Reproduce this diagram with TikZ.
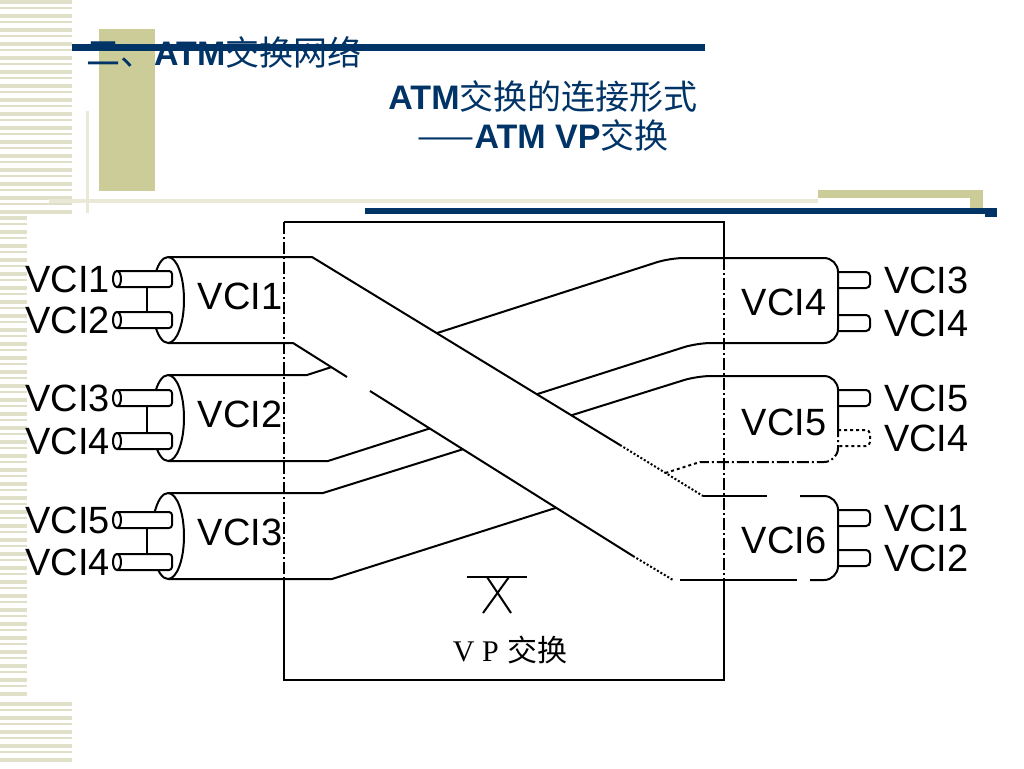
\documentclass[tikz,border=0pt]{standalone}
\usepackage{fontspec}
\setmainfont{Liberation Sans}
\newfontfamily\cjk{Noto Sans CJK SC}
\newfontfamily\romanfont{Liberation Serif}
\usetikzlibrary{positioning}

\definecolor{navy}{RGB}{0,51,102}
\definecolor{olive}{RGB}{204,204,153}
\definecolor{stripe}{RGB}{224,223,200}
\definecolor{paleline}{RGB}{234,233,215}

\tikzset{
  wire/.style={line width=2pt},
  boxdash/.style={line width=2pt, dash pattern=on 12pt off 3pt on 2pt off 3pt},
  vci/.style={inner sep=0pt, font=\fontsize{38}{38}\selectfont},
  heading/.style={inner sep=0pt, text=navy, font=\fontsize{34}{34}\selectfont},
}

\begin{document}
\begin{tikzpicture}[x=1pt, y=-1pt]
            \useasboundingbox (0,0) rectangle (1024,768);
            \fill[white] (0,0) rectangle (1024,768);

            \foreach \y [count=\i] in {0,7,...,210} {\fill[stripe] (0,\y) rectangle (72,{\y+2+2*mod(\i,2)});}
            \foreach \y [count=\i] in {216,223,...,697} {\fill[stripe] (0,\y) rectangle (27,{\y+2+2*mod(\i,2)});}
            \foreach \y [count=\i] in {702,709,...,758} {\fill[stripe] (0,\y) rectangle (72,{\y+2+2*mod(\i,2)});}

            \fill[olive] (99,29) rectangle (155,191);
            \fill[paleline] (86,111) rectangle (89,213);
            \fill[paleline] (49,199) rectangle (818,203);
            \fill[olive] (818,190) rectangle (983,208);
            \fill[white] (818,198) rectangle (970,208);
            \fill[navy] (72,44) rectangle (705,51);
            \fill[navy] (365,208) rectangle (985,214);
            \fill[navy] (985,208) rectangle (997,217);

            \node[heading, anchor=west] (title) at (86,52) {{\cjk 二、}\textbf{ATM}{\cjk 交换网络}};
            \node[heading] (sub1) at (543,97) {\textbf{ATM}{\cjk 交换的连接形式}};
            \node[heading] (sub2) at (543,135) {{\cjk ——}\textbf{ATM VP}{\cjk 交换}};

            \draw[wire] (284,580) -- (284,680) -- (724,680) -- (724,580);
            \draw[wire] (284,222) -- (724,222) -- (724,258);
            \draw[boxdash] (284,222) -- (284,580);
            \draw[boxdash] (724,258) -- (724,580);

            \foreach \c/\m/\a/\b/\la/\lb in {1/300/279/320/1/2, 2/418/398/441/3/4, 3/536/520/562/5/4} {
                \draw[wire] (168,\m) ++(0,-43) arc[start angle=-90, end angle=90, x radius=16, y radius=43];
                \draw[wire] (168,\m) ++(0,-43) arc[start angle=-90, end angle=-150, x radius=16, y radius=43];
                \draw[wire] (168,\m) ++(0,43) arc[start angle=90, end angle=150, x radius=16, y radius=43];
                \foreach \p in {\a,\b} {
                    \draw[wire, fill=white, rounded corners=3pt] (117,\p-8) -- (172,\p-8) -- (172,\p+8) -- (117,\p+8);
                    \draw[wire, fill=white] (117,\p) ellipse [x radius=4, y radius=8];
                }
                \draw[wire] (147,\a+8) -- (147,\b-8);
                \coordinate (lp\c a) at (113,\a);
                \coordinate (lp\c b) at (113,\b);
                \node[vci, left=3pt of lp\c a] (in\c a) {VCI\la};
                \node[vci, left=3pt of lp\c b] (in\c b) {VCI\lb};
                \node[vci] (cable\c) at (240,\m-4) {VCI\c};
            }

            \foreach \c/\m/\a/\b/\la/\lb/\st in {4/302/280/323/3/4/solid, 5/422/398/438/5/4/dashed, 6/540/518/558/1/2/solid} {
                \draw[wire, fill=white, rounded corners=4pt] (838,\a-8) -- (870,\a-8) -- (870,\a+8) -- (838,\a+8);
                \draw[wire, \st, fill=white, rounded corners=4pt] (838,\b-8) -- (870,\b-8) -- (870,\b+8) -- (838,\b+8);
                \coordinate (rp\c a) at (870,\a);
                \coordinate (rp\c b) at (870,\b);
                \node[vci, right=14pt of rp\c a] (out\c a) {VCI\la};
                \node[vci, right=14pt of rp\c b] (out\c b) {VCI\lb};
                \node[vci] (cable\c) at (784,\m) {VCI\c};
            }

            \draw[wire] (168,257) -- (312,257) -- (620,445);
            \draw[wire, dotted] (620,445) -- (703,496);
            \draw[wire] (703,496) -- (767,496);
            \draw[wire, rounded corners=14pt] (800,496) -- (838,496) -- (838,580) -- (810,580);
            \draw[wire] (168,343) -- (293,343) -- (347,377);
            \draw[wire] (370,391) -- (633,556);
            \draw[wire, dotted] (633,556) -- (673,580);
            \draw[wire] (680,580) -- (797,580);

            \draw[wire] (168,375) -- (307,375) -- (331.4,367.1);
            \draw[wire, rounded corners=14pt] (436.6,333.2) -- (670,258) -- (838,258) -- (838,343) -- (697,343) -- (536.6,394.3);
            \draw[wire] (168,461) -- (328,461) -- (429.6,428.5);

            \draw[wire] (168,493) -- (323,493) -- (462.7,449.3);
            \draw[wire, rounded corners=14pt] (571.1,415.4) -- (697,376) -- (838,376) -- (838,425);
            \draw[boxdash, rounded corners=14pt] (838,425) -- (838,462) -- (700,462);
            \draw[wire] (168,579) -- (332,579) -- (556.1,507.8);
            \draw[wire, dashed] (665.4,473) -- (700,462);

            \draw[wire] (467,577) -- (527,577);
            \draw[wire] (487,577) -- (511,613);
            \draw[wire] (509,577) -- (483,613);
            \node[inner sep=0pt, font=\fontsize{30}{30}\selectfont] (vpswitch) at (510,650) {{\romanfont V P} {\cjk 交换}};
\end{tikzpicture}
\end{document}
